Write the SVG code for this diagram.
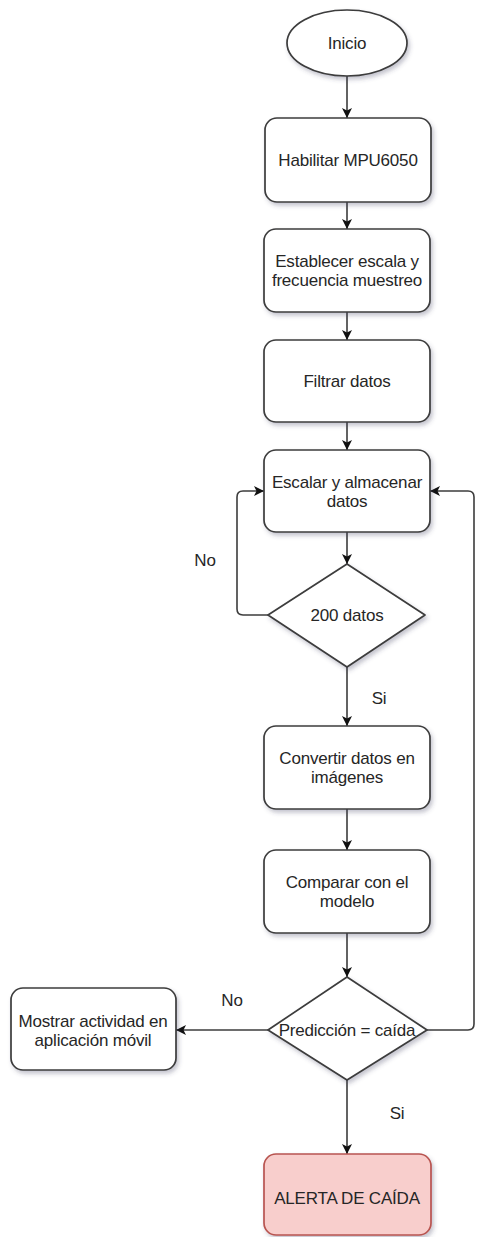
<svg xmlns="http://www.w3.org/2000/svg" width="477" height="1237" viewBox="0 0 477 1237">
<style>
.n{fill:#ffffff;stroke:#3c3c3c;stroke-width:1.7;filter:url(#sh)}
.a{fill:#f8cecc;stroke:#b85450;stroke-width:1.7;filter:url(#sh)}
.t{font-family:"Liberation Sans",Arial,sans-serif;font-size:17px;fill:#262626;text-anchor:middle;letter-spacing:-0.2px}
.c{fill:none;stroke:#3c3c3c;stroke-width:1.6}
</style>
<defs>
<filter id="sh" x="-10%" y="-10%" width="130%" height="140%">
<feDropShadow dx="2" dy="3" stdDeviation="2" flood-color="#404060" flood-opacity="0.3"/>
</filter>
<marker id="ar" viewBox="0 0 10 10" refX="10" refY="5" markerWidth="10" markerHeight="10" markerUnits="userSpaceOnUse" orient="auto">
<path d="M0,0 L10,5 L0,10 L2.5,5 z" fill="#111111"/>
</marker>
</defs>
<g id="connectors">
<path class="c" d="M347,76 L347,118" marker-end="url(#ar)"/>
<path class="c" d="M347,202 L347,229" marker-end="url(#ar)"/>
<path class="c" d="M347,312 L347,340" marker-end="url(#ar)"/>
<path class="c" d="M347,422 L347,450" marker-end="url(#ar)"/>
<path class="c" d="M347,532 L347,564" marker-end="url(#ar)"/>
<path class="c" d="M268,615 L243,615 Q237,615 237,609 L237,497 Q237,491 243,491 L264,491" marker-end="url(#ar)"/>
<path class="c" d="M347,667 L347,726" marker-end="url(#ar)"/>
<path class="c" d="M347,809 L347,850" marker-end="url(#ar)"/>
<path class="c" d="M347,933 L347,977" marker-end="url(#ar)"/>
<path class="c" d="M268,1030 L176,1030" marker-end="url(#ar)"/>
<path class="c" d="M427,1030 L468,1030 Q474,1030 474,1024 L474,497 Q474,491 468,491 L430,491" marker-end="url(#ar)"/>
<path class="c" d="M347,1080 L347,1154" marker-end="url(#ar)"/>
<text class="t" x="205" y="566">No</text>
<text class="t" x="379" y="704">Si</text>
<text class="t" x="232" y="1006">No</text>
<text class="t" x="397" y="1119">Si</text>
</g>
<g id="inicio">
<ellipse class="n" cx="347" cy="43" rx="60" ry="33"/>
<text class="t" x="347" y="49">Inicio</text>
</g>
<g id="habilitar">
<rect class="n" x="265" y="118" width="166" height="84" rx="12"/>
<text class="t" x="348" y="166">Habilitar MPU6050</text>
</g>
<g id="establecer">
<rect class="n" x="264" y="229" width="166" height="83" rx="12"/>
<text class="t" x="347" y="267">Establecer escala y</text>
<text class="t" x="347" y="286">frecuencia muestreo</text>
</g>
<g id="filtrar">
<rect class="n" x="264" y="340" width="166" height="82" rx="12"/>
<text class="t" x="347" y="387">Filtrar datos</text>
</g>
<g id="escalar">
<rect class="n" x="264" y="450" width="166" height="82" rx="12"/>
<text class="t" x="347" y="488">Escalar y almacenar</text>
<text class="t" x="347" y="507">datos</text>
</g>
<g id="d200">
<path class="n" d="M347,564 L425,615 L347,667 L268,615 Z" stroke-linejoin="round"/>
<text class="t" x="347" y="621">200 datos</text>
</g>
<g id="convertir">
<rect class="n" x="264" y="726" width="166" height="83" rx="12"/>
<text class="t" x="347" y="764">Convertir datos en</text>
<text class="t" x="347" y="783">imágenes</text>
</g>
<g id="comparar">
<rect class="n" x="264" y="850" width="166" height="83" rx="12"/>
<text class="t" x="347" y="888">Comparar con el</text>
<text class="t" x="347" y="907">modelo</text>
</g>
<g id="prediccion">
<path class="n" d="M347,977 L427,1030 L347,1080 L268,1030 Z" stroke-linejoin="round"/>
<text class="t" x="347" y="1036">Predicción = caída</text>
</g>
<g id="mostrar">
<rect class="n" x="11" y="988" width="165" height="82" rx="12"/>
<text class="t" x="93" y="1027">Mostrar actividad en</text>
<text class="t" x="93" y="1046">aplicación móvil</text>
</g>
<g id="alerta">
<rect class="a" x="264" y="1154" width="167" height="81" rx="12"/>
<text class="t" x="347" y="1204">ALERTA DE CAÍDA</text>
</g>
</svg>
